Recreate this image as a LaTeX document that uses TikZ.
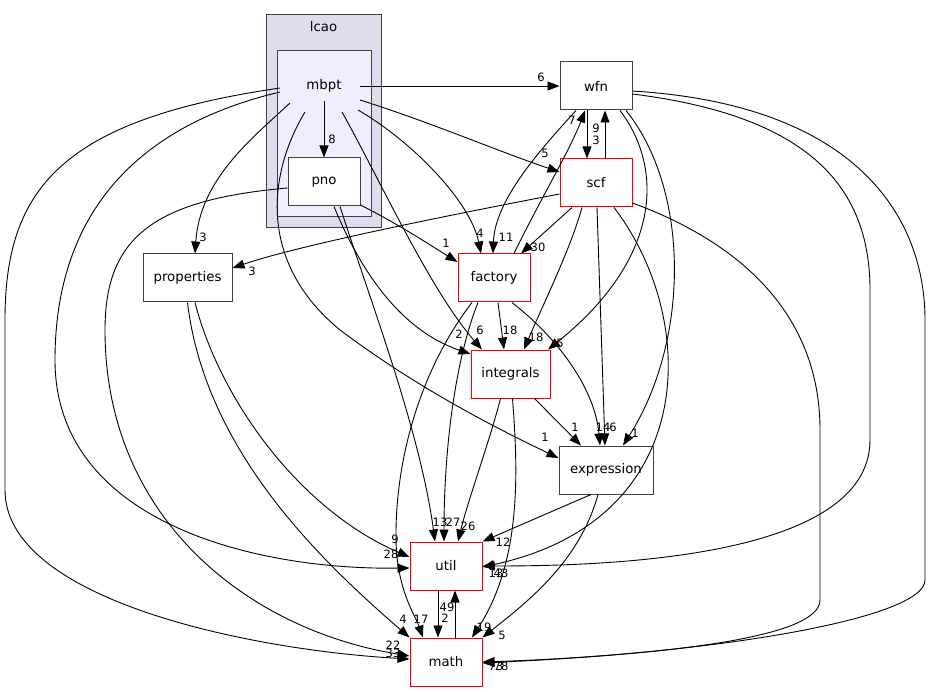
\documentclass[tikz,border=0pt]{standalone}
\usepackage{fontspec}
\setmainfont{DejaVu Sans}
\usetikzlibrary{arrows.meta,calc}
\begin{document}
\begin{tikzpicture}[x=1pt,y=-1pt,
 box/.style={draw=black!75, fill=white, line width=1pt, minimum width=72pt, minimum height=48pt, inner sep=0pt, font=\fontsize{13.3}{16}\selectfont},
 redbox/.style={box, draw=red},
 e/.style={draw=black, line width=0.9pt, -{Triangle[length=12pt,width=9pt]}},
 lbl/.style={font=\fontsize{11.5}{13}\selectfont, inner sep=0pt},
 cl/.style={draw=black!75, line width=1pt}]
\useasboundingbox (0,0) rectangle (928,692);
% clusters
\draw[cl, fill={rgb,255:red,221;green,221;blue,238}] (266,15) rectangle (381,228);
\node[font=\fontsize{13.3}{16}\selectfont] (lcao) at (323.5,27) {lcao};
\draw[cl, fill={rgb,255:red,238;green,238;blue,255}] (277,51) rectangle (371,217);
\node[font=\fontsize{13.3}{16}\selectfont, minimum width=72pt, minimum height=30pt, inner sep=0pt] (mbpt) at (324,86) {mbpt};
% nodes
\node[box] (pno) at (324,182) {pno};
\node[box] (wfn) at (596,86) {wfn};
\node[redbox] (scf) at (596,183) {scf};
\node[box, minimum width=89pt] (properties) at (187.5,278) {properties};
\node[redbox] (factory) at (494,278) {factory};
\node[redbox, minimum width=79pt] (integrals) at (510.5,374) {integrals};
\node[box, minimum width=94pt] (expression) at (606,470) {expression};
\node[redbox] (util) at (446,566) {util};
\node[redbox] (math) at (446,662) {math};
% mbpt edges
\draw[e] (mbpt.east) -- (wfn.west);
\node[lbl] at (541,77) {6};
\draw[e] ($(mbpt.center)+(36,14)$) .. controls (430,122) and (500,152) .. ($(scf.west)+(0,-11)$);
\node[lbl] at (545,153) {5};
\draw[e] (mbpt.south) -- (pno.north);
\node[lbl] at (332,139) {8};
\draw[e] ($(mbpt.center)+(34,24)$) .. controls (410,140) and (470,200) .. ($(factory.north)+(-13,0)$);
\node[lbl] at (480,233) {4};
\draw[e] ($(mbpt.center)+(18,26)$) .. controls (380,180) and (430,290) .. ($(integrals.north)+(-28.5,0)$);
\node[lbl] at (480,330) {6};
\draw[e] ($(mbpt.center)+(-19,26)$) .. controls (270,170) and (255,260) .. (340,330) .. controls (420,390) and (500,430) .. ($(expression.west)+(0,-12)$);
\node[lbl] at (545,437) {1};
\draw[e] ($(mbpt.center)+(-34,17)$) .. controls (250,140) and (200,180) .. ($(properties.north)+(7.5,0)$);
\node[lbl] at (203,237) {3};
\draw[e] ($(mbpt.center)+(-44,6)$) .. controls (120,130) and (55,230) .. (55,360) .. controls (55,520) and (250,570) .. ($(util.west)+(0,2)$);
\node[lbl] at (391,554) {28};
\draw[e] ($(mbpt.center)+(-44,2)$) .. controls (60,120) and (5,190) .. (5,320) -- (5,490) .. controls (5,600) and (250,650) .. ($(math.west)+(0,-3)$);
\node[lbl] at (393,653) {33};
% pno edges
\draw[e] ($(pno.west)+(0,6)$) .. controls (150,200) and (105,240) .. (105,330) .. controls (105,520) and (250,630) .. ($(math.west)+(0,-6)$);
\node[lbl] at (393,645) {22};
\draw[e] ($(pno.east)+(0,23)$) .. controls (400,225) and (430,245) .. ($(factory.west)+(0,-16)$);
\node[lbl] at (446,243) {1};
\draw[e] ($(pno.south)+(16,0)$) .. controls (370,300) and (420,430) .. ($(util.north)+(-11,0)$);
\node[lbl] at (440,522) {13};
\draw[e] ($(pno.south)+(10,0)$) .. controls (360,270) and (400,330) .. ($(integrals.west)+(0,-20)$);
\node[lbl] at (459,334) {2};
% wfn edges
\draw[e] ($(wfn.south)+(-9,0)$) -- ($(scf.north)+(-9,0)$);
\node[lbl] at (596,140) {3};
\draw[e] ($(scf.north)+(9,0)$) -- ($(wfn.south)+(9,0)$);
\node[lbl] at (596,128) {9};
\draw[e] ($(factory.north)+(20,0)$) .. controls (540,200) and (570,150) .. ($(wfn.south)+(-11,0)$);
\node[lbl] at (572,120) {7};
\draw[e] ($(wfn.south)+(-20,0)$) .. controls (540,150) and (495,200) .. ($(factory.north)+(-1,0)$);
\node[lbl] at (506,237) {11};
\draw[e] ($(wfn.south)+(24,0)$) .. controls (665,170) and (660,260) .. ($(integrals.north)+(37.5,0)$);
\node[lbl] at (560,343) {5};
\draw[e] ($(wfn.south)+(30,0)$) .. controls (690,190) and (690,340) .. ($(expression.north)+(17,0)$);
\node[lbl] at (635,433) {1};
\draw[e] ($(wfn.east)+(0,8)$) .. controls (800,115) and (870,180) .. (870,290) -- (870,440) .. controls (870,560) and (600,566) .. (util.east);
\node[lbl] at (501,573) {43};
\draw[e] ($(wfn.east)+(0,5)$) .. controls (860,105) and (925,220) .. (925,320) -- (925,580) .. controls (925,620) and (700,655) .. (math.east);
\node[lbl] at (501,666) {78};
% scf edges
\draw[e] ($(scf.west)+(0,11)$) .. controls (450,215) and (300,245) .. ($(properties.east)+(0,-10)$);
\node[lbl] at (252,271) {3};
\draw[e] ($(scf.south)+(-24,0)$) -- ($(factory.north)+(27,0)$);
\node[lbl] at (538,247) {30};
\draw[e] ($(scf.south)+(-14,0)$) .. controls (570,250) and (545,300) .. ($(integrals.north)+(13.5,0)$);
\node[lbl] at (536,337) {18};
\draw[e] ($(scf.south)+(1,0)$) -- ($(expression.north)+(-1,0)$);
\node[lbl] at (613,427) {6};
\draw[e] ($(scf.south)+(18,0)$) .. controls (700,320) and (700,520) .. ($(util.east)+(0,1)$);
\node[lbl] at (496,573) {13};
\draw[e] ($(scf.east)+(0,20)$) .. controls (760,250) and (820,330) .. (820,430) -- (820,600) .. controls (820,640) and (650,655) .. ($(math.east)+(0,1)$);
\node[lbl] at (496,666) {73};
% factory edges
\draw[e] ($(factory.south)+(4,0)$) -- ($(integrals.north)+(-6.5,0)$);
\node[lbl] at (510,330) {18};
\draw[e] ($(factory.south)+(-16,0)$) .. controls (455,360) and (444,450) .. ($(util.north)+(-2,0)$);
\node[lbl] at (453,522) {27};
\draw[e] ($(factory.south)+(-22,0)$) .. controls (420,370) and (395,460) .. (396,540) .. controls (397,590) and (415,615) .. ($(math.north)+(-23,0)$);
\node[lbl] at (421,619) {17};
\draw[e] ($(factory.south)+(18,0)$) .. controls (560,340) and (595,390) .. ($(expression.north)+(-6,0)$);
\node[lbl] at (603,427) {14};
% integrals edges
\draw[e] ($(integrals.south)+(24,0)$) -- ($(expression.north)+(-25,0)$);
\node[lbl] at (575,427) {1};
\draw[e] ($(integrals.south)+(-10,0)$) .. controls (490,440) and (468,500) .. ($(util.north)+(12,0)$);
\node[lbl] at (468,526) {26};
\draw[e] ($(integrals.south)+(2,0)$) .. controls (518,470) and (522,560) .. ($(math.north)+(26,0)$);
\node[lbl] at (484,627) {19};
% properties edges
\draw[e] ($(properties.south)+(7.5,0)$) .. controls (220,400) and (300,510) .. ($(util.west)+(0,-9)$);
\node[lbl] at (395,539) {9};
\draw[e] ($(properties.south)+(0,0)$) .. controls (205,450) and (320,560) .. (math.north west);
\node[lbl] at (403,619) {4};
% expression edges
\draw[e] ($(expression.south)+(-15,0)$) -- (util.north east);
\node[lbl] at (503,542) {12};
\draw[e] ($(expression.south)+(-8,0)$) .. controls (580,560) and (530,600) .. (math.north east);
\node[lbl] at (502,635) {5};
% util / math
\draw[e] ($(util.south)+(-8,0)$) -- ($(math.north)+(-8,0)$);
\node[lbl] at (445,618) {2};
\draw[e] ($(math.north)+(9,0)$) -- ($(util.south)+(9,0)$);
\node[lbl] at (447,607) {49};
\end{tikzpicture}
\end{document}
